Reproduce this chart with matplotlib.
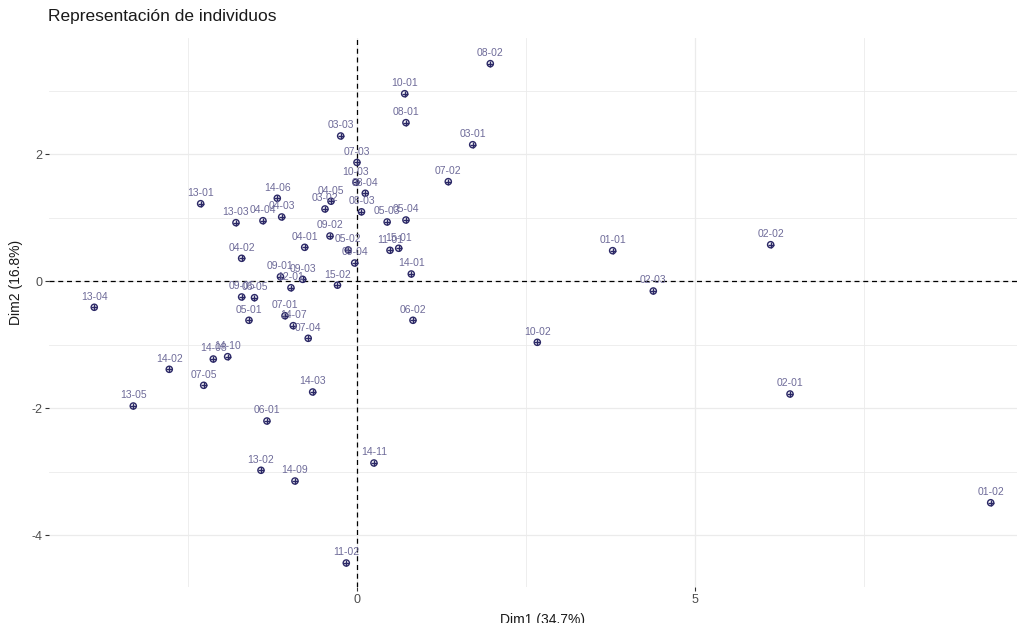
import matplotlib
matplotlib.use('Agg')
import matplotlib.pyplot as plt
from matplotlib.ticker import MultipleLocator

plt.rcParams['font.family'] = ['Liberation Sans', 'DejaVu Sans']
plt.rcParams['axes.unicode_minus'] = False

# individuos (Dim1, Dim2)
labels = ['08-02', '10-01', '08-01', '03-03', '03-01', '07-03', '07-02', '10-03',
          '08-04', '13-01', '14-06', '04-05', '03-02', '08-03', '13-03', '04-04',
          '04-03', '05-03', '05-04', '09-02', '04-01', '05-02', '11-01', '15-01',
          '04-02', '09-04', '14-01', '09-01', '09-03', '12-01', '15-02', '09-05',
          '06-05', '05-01', '07-01', '14-07', '07-04', '06-02', '13-04', '14-08',
          '14-10', '14-02', '07-05', '14-03', '13-05', '06-01', '13-02', '14-09',
          '14-11', '11-02', '01-01', '02-02', '02-03', '10-02', '02-01', '01-02']
dim1 = [1.971, 0.705, 0.724, -0.241, 1.711, 0.000, 1.350, -0.015,
        0.123, -2.311, -1.178, -0.384, -0.473, 0.067, -1.789, -1.390,
        -1.113, 0.446, 0.724, -0.399, -0.773, -0.129, 0.488, 0.617,
        -1.705, -0.034, 0.803, -1.131, -0.803, -0.976, -0.288, -1.705,
        -1.515, -1.597, -1.064, -0.942, -0.721, 0.828, -3.884, -2.124,
        -1.912, -2.775, -2.266, -0.655, -3.307, -1.331, -1.419, -0.917,
        0.251, -0.158, 3.780, 6.116, 4.381, 2.666, 6.402, 9.369]
dim2 = [3.427, 2.954, 2.498, 2.288, 2.151, 1.871, 1.569, 1.559,
        1.386, 1.222, 1.307, 1.261, 1.139, 1.094, 0.923, 0.954,
        1.013, 0.934, 0.965, 0.713, 0.535, 0.493, 0.488, 0.520,
        0.362, 0.288, 0.115, 0.072, 0.031, -0.102, -0.061, -0.247,
        -0.258, -0.614, -0.542, -0.699, -0.898, -0.614, -0.409, -1.224,
        -1.187, -1.386, -1.638, -1.743, -1.964, -2.200, -2.976, -3.145,
        -2.861, -4.436, 0.482, 0.576, -0.153, -0.961, -1.775, -3.487]

pt_col = '#2b2866'
txt_col = '#6e6b99'

fig = plt.figure(figsize=(10.17, 6.23), dpi=100)
ax = fig.add_axes([49 / 1017, 1 - 587 / 623, 1 - 49 / 1017, (587 - 38) / 623])

ax.set_xlim(-4.553, 9.758)
ax.set_ylim(-4.814, 3.831)

ax.xaxis.set_major_locator(MultipleLocator(5))
ax.xaxis.set_minor_locator(MultipleLocator(2.5))
ax.yaxis.set_major_locator(MultipleLocator(2))
ax.yaxis.set_minor_locator(MultipleLocator(1))
ax.grid(True, which='major', color='#ebebeb', linewidth=0.9)
ax.grid(True, which='minor', color='#ebebeb', linewidth=0.6)
ax.set_axisbelow(True)

for s in ax.spines.values():
    s.set_visible(False)
ax.tick_params(which='major', length=3, width=0.8, color='#333333',
               labelcolor='#4d4d4d', labelsize=9, pad=2)
ax.tick_params(which='minor', length=0)

ax.axhline(0, color='black', linestyle=(0, (4, 3)), linewidth=0.9, zorder=1)
ax.axvline(0, color='black', linestyle=(0, (4, 3)), linewidth=0.9, zorder=1)

ax.scatter(dim1, dim2, s=20, facecolors='none', edgecolors=pt_col, linewidths=1.0, zorder=3)
ax.scatter(dim1, dim2, s=24, marker='+', color=pt_col, linewidths=1.0, zorder=3)

for lab, x, y in zip(labels, dim1, dim2):
    ax.annotate(lab, (x, y), xytext=(0, 4), textcoords='offset points',
                ha='center', va='bottom', fontsize=7.5, color=txt_col, zorder=4)

ax.set_xlabel('Dim1 (34.7%)', fontsize=10, color='#1a1a1a')
ax.xaxis.set_label_coords((542 - 49) / 968, -0.048)
ax.set_ylabel('Dim2 (16.8%)', fontsize=10, color='#1a1a1a')
ax.yaxis.set_label_coords(-0.027, (587 - 282) / 549)
fig.text(48 / 1017, 1 - 17 / 623, 'Representación de individuos', fontsize=12.5,
         color='#1a1a1a', ha='left', va='center')

fig.savefig('out.png', dpi=100)
